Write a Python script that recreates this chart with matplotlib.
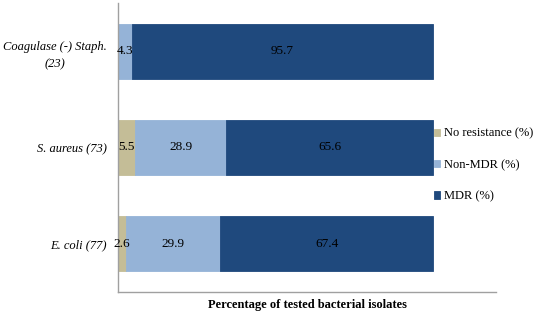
import matplotlib
matplotlib.use("Agg")
import matplotlib.pyplot as plt
import numpy as np

categories = ["E. coli (77)", "S. aureus (73)", "Coagulase (-) Staph.\n(23)"]
no_resistance = [2.6, 5.5, 0.0]
non_mdr = [29.9, 28.9, 4.3]
mdr = [67.4, 65.6, 95.7]
series_names = ["No resistance (%)", "Non-MDR (%)", "MDR (%)"]
colors = ["#C4BD97", "#95B3D7", "#1F497D"]

plt.rcParams['font.family'] = ['Liberation Serif', 'DejaVu Serif']

fig = plt.figure(figsize=(5.36, 3.12), dpi=100)
ax = fig.add_axes([118/536, 1-292/312, (496-118)/536, (292-3)/312])

y = np.arange(len(categories))
h = 0.57
left = np.zeros(len(categories))
for vals, name, c in zip([no_resistance, non_mdr, mdr], series_names, colors):
    vals = np.array(vals)
    ax.barh(y, vals, left=left, height=h, color=c, label=name,
            edgecolor=c, linewidth=0.6)
    for yi, l, v in zip(y, left, vals):
        if v > 0:
            ax.text(l + v/2, yi, f"{v:.1f}", ha='center', va='center',
                    fontsize=9.5, color='black')
    left += vals

ax.set_xlim(0, 120)
ax.set_ylim(-0.5, 2.5)
ax.set_yticks(y)
ax.set_yticklabels(categories, fontstyle='italic', fontsize=9, ha='right',
                   multialignment='center', linespacing=1.6)
ax.tick_params(axis='y', length=0, pad=8)
ax.set_xticks([])
for s in ['top', 'right']:
    ax.spines[s].set_visible(False)
for s in ['left', 'bottom']:
    ax.spines[s].set_color('#A0A0A0')
    ax.spines[s].set_linewidth(1.0)
ax.set_xlabel("Percentage of tested bacterial isolates", fontweight='bold',
              fontsize=9, labelpad=5)

leg = fig.legend(loc='center left', bbox_to_anchor=(434/536, 1-165/312),
                 frameon=False, fontsize=9, handlelength=0.5, handleheight=0.5,
                 handletextpad=0.3, labelspacing=1.55, borderaxespad=0,
                 borderpad=0)
plt.savefig("out.png", dpi=100)
